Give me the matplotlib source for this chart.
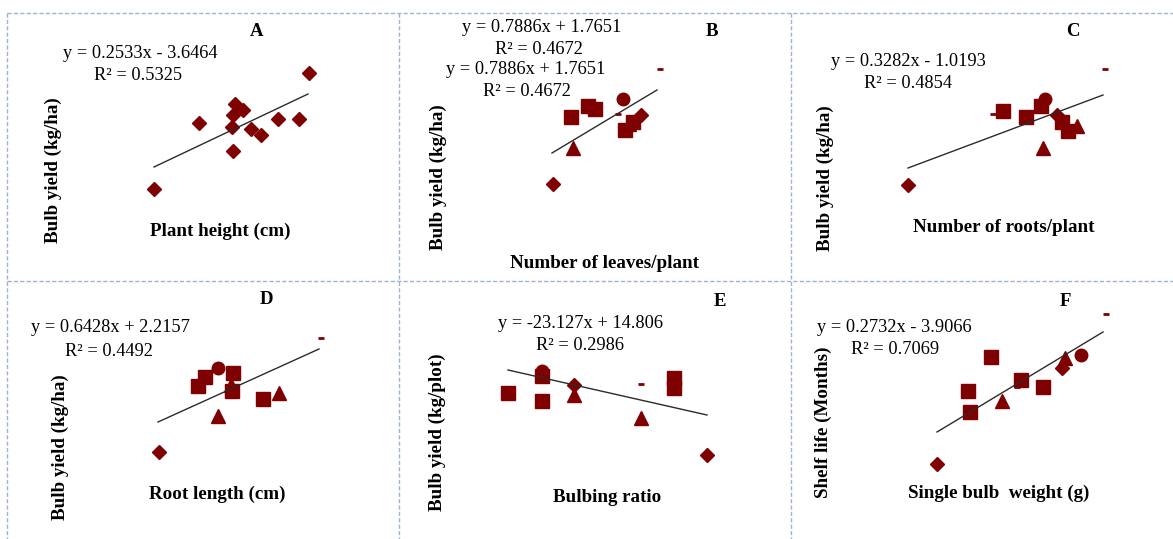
import matplotlib
matplotlib.use("Agg")
from matplotlib import pyplot as plt
from matplotlib.lines import Line2D

W, H = 1173, 539
RED = "#7f0000"

# panel values in local units (x from panel left, y up from panel bottom)
# marker codes: D diamond, s square, ^ triangle, o circle, _ dash
A_X = [302, 192, 228, 236, 226, 225, 244, 254, 271, 292, 226, 147]
A_Y = [208, 158, 177, 171, 166, 154, 152, 146, 162, 162, 130, 92]
A_M = "DDDDDDDDDDDD"
A_TREND_X = [147, 301]
A_TREND_Y = [114, 187]

B_X = [154, 172, 189, 196, 226, 234, 230, 174, 242, 224, 219, 261]
B_Y = [97, 164, 175, 172, 151, 159, 157, 133, 166, 182, 167, 212]
B_M = "Dsssss^^Do__"
B_TREND_X = [153, 258]
B_TREND_Y = [128, 191]

C_X = [117, 266, 212, 235, 250, 271, 277, 286, 252, 254, 202, 314]
C_Y = [96, 166, 170, 164, 175, 159, 150, 155, 133, 182, 167, 212]
C_M = "DDsssss^^o__"
C_TREND_X = [117, 312]
C_TREND_Y = [113, 186]

D_X = [152, 198, 191, 226, 225, 256, 224, 272, 211, 211, 314]
D_Y = [87, 162, 153, 166, 148, 140, 154, 146, 123, 171, 201]
D_M = "Dsssss^^^o_"
D_TREND_X = [151, 312]
D_TREND_Y = [117, 190]

E_X = [308, 175, 109, 143, 143, 275, 275, 175, 242, 143, 242]
E_Y = [84, 154, 146, 163, 138, 161, 151, 144, 121, 168, 155]
E_M = "DDsssss^^o_"
E_TREND_X = [109, 308]
E_TREND_Y = [169, 124]

F_X = [146, 271, 200, 230, 252, 177, 179, 274, 211, 290, 226, 315]
F_Y = [75, 171, 182, 159, 152, 148, 127, 181, 138, 184, 152, 225]
F_M = "DDsssss^^o__"
F_TREND_X = [146, 312]
F_TREND_Y = [107, 207]

LETTERS = ["A", "B", "C", "D", "E", "F"]
EQUATIONS = [
    ["y = 0.2533x - 3.6464", "R\u00b2 = 0.5325"],
    ["y = 0.7886x + 1.7651", "R\u00b2 = 0.4672", "y = 0.7886x + 1.7651", "R\u00b2 = 0.4672"],
    ["y = 0.3282x - 1.0193", "R\u00b2 = 0.4854"],
    ["y = 0.6428x + 2.2157", "R\u00b2 = 0.4492"],
    ["y = -23.127x + 14.806", "R\u00b2 = 0.2986"],
    ["y = 0.2732x - 3.9066", "R\u00b2 = 0.7069"],
]
X_LABELS = ["Plant height (cm)", "Number of leaves/plant", "Number of roots/plant",
            "Root length (cm)", "Bulbing ratio", "Single bulb  weight (g)"]
Y_LABELS = ["Bulb yield (kg/ha)", "Bulb yield (kg/ha)", "Bulb yield (kg/ha)",
            "Bulb yield (kg/ha)", "Bulb yield (kg/plot)", "Shelf life (Months)"]

# layout (pixels)
COLS = [(7, 399), (399, 791), (791, 1173)]
ROWS = [(13, 281), (281, 539)]
LETTER_POS = [(257, 32), (712, 32), (1073, 32), (266, 300), (720, 302), (1065, 302)]
EQ_POS = [
    [(140, 53), (138, 76)],
    [(542, 27), (539, 50), (526, 70), (527, 92)],
    [(908, 61), (908, 83)],
    [(110, 327), (109, 351)],
    [(580, 323), (580, 346)],
    [(894, 328), (895, 350)],
]
XLAB_POS = [(220, 231), (605, 263), (1004, 228), (217, 494), (607, 498), (999, 493)]
YLAB_POS = [(53, 170), (438, 177), (825, 178), (60, 447), (437, 432), (823, 422)]

MARKER_STYLE = {
    "D": dict(markersize=6.9),
    "s": dict(markersize=10),
    "^": dict(markersize=9.5),
    "o": dict(markersize=9),
    "_": dict(markersize=5, markeredgewidth=2.0),
}

plt.rcParams["font.family"] = ["Liberation Serif", "DejaVu Serif"]

fig = plt.figure(figsize=(W / 100, H / 100), dpi=100)


def fx(px):
    return px / W


def fy(py):
    return 1 - py / H


def ftext(pos, s, **kw):
    fig.text(fx(pos[0]), fy(pos[1]), s, ha="center", va="center", **kw)


panels = [
    (A_X, A_Y, A_M, A_TREND_X, A_TREND_Y),
    (B_X, B_Y, B_M, B_TREND_X, B_TREND_Y),
    (C_X, C_Y, C_M, C_TREND_X, C_TREND_Y),
    (D_X, D_Y, D_M, D_TREND_X, D_TREND_Y),
    (E_X, E_Y, E_M, E_TREND_X, E_TREND_Y),
    (F_X, F_Y, F_M, F_TREND_X, F_TREND_Y),
]

for i, (xs, ys, ms, tx, ty) in enumerate(panels):
    (l, r), (t, b) = COLS[i % 3], ROWS[i // 3]
    ax = fig.add_axes([fx(l), fy(b), (r - l) / W, (b - t) / H])
    ax.set_xlim(0, r - l)
    ax.set_ylim(0, b - t)
    ax.axis("off")
    for x, y, m in zip(xs, ys, ms):
        ax.plot([x], [y], linestyle="none", marker=m, color=RED,
                markeredgecolor=RED, **MARKER_STYLE[m])
    ax.plot(tx, ty, color="#2b2b2b", lw=1.0, zorder=5)

    ftext(LETTER_POS[i], LETTERS[i], fontsize=13.5, fontweight="bold")
    for pos, s in zip(EQ_POS[i], EQUATIONS[i]):
        ftext(pos, s, fontsize=13.2)
    ftext(XLAB_POS[i], X_LABELS[i], fontsize=13.7, fontweight="bold")
    ftext(YLAB_POS[i], Y_LABELS[i], fontsize=13.7, fontweight="bold", rotation=90)

# dashed panel borders
border = dict(color="#9fb3d1", lw=1.0, linestyle=(0, (3, 1.6)),
              transform=fig.transFigure)
for py in (13, 281):
    fig.add_artist(Line2D([fx(7), 1], [fy(py), fy(py)], **border))
for px in (7, 399, 791):
    fig.add_artist(Line2D([fx(px), fx(px)], [fy(13), 0], **border))

fig.savefig("out.png", dpi=100)
